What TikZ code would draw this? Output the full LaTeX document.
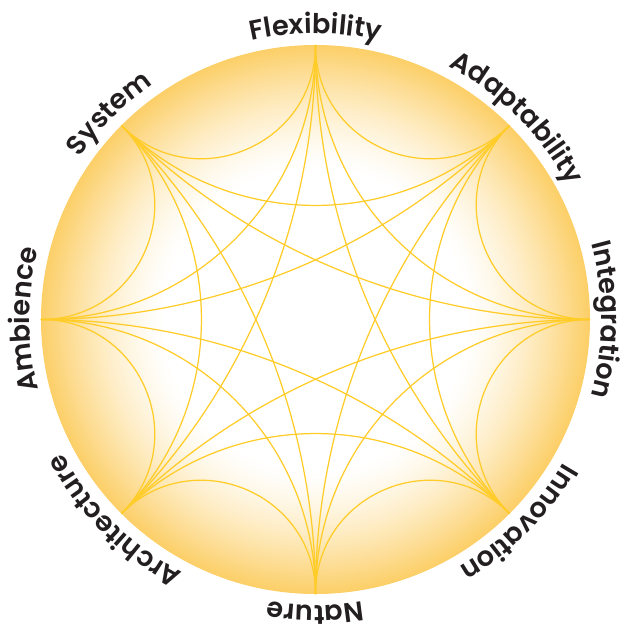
\documentclass[tikz,border=0pt]{standalone}
\usepackage{fontspec}
\usetikzlibrary{decorations.text}
\newfontfamily\labfont{Poppins SemiBold}

\definecolor{discedge}{RGB}{252,207,104}
\definecolor{arccolor}{RGB}{255,204,40}
\definecolor{labelcolor}{RGB}{35,31,32}

\tikzset{
  geodesic/.style={arccolor, line width=0.7pt},
  circlelabel/.style={decorate, decoration={text along path, text align=center,
    text color=labelcolor, text={|\labfont\fontsize{15.5}{17}\selectfont|#1}}}
}

\begin{document}
\begin{tikzpicture}
  \useasboundingbox (-6.31,-6.13) rectangle (6.11,6.39);
  \def\R{5.49}
  \def\T{5.72cm}

  % Draw the disc, yellow at the rim and white inside
  \foreach \k in {0,...,80} {
    \pgfmathsetmacro{\rr}{\R*(1-0.45*\k/80)}
    \pgfmathsetmacro{\pc}{100*(1-\k/80)^1.4}
    \fill[discedge!\pc!white] (0,0) circle (\rr);
  }
  \fill[white] (0,0) circle (0.55*\R);

  % Points on the rim
  \foreach \i in {0,...,7}
    \coordinate (p\i) at (90-45*\i:\R);

  % Arcs between the points (1, 2 and 3 steps apart)
  \foreach \i in {0,...,7} {
    \foreach \s/\b/\l in {1/67.5/1.231, 2/45/0.997, 3/22.5/0.885} {
      \pgfmathtruncatemacro{\j}{mod(\i+8-\s,8)}
      \draw[geodesic] (p\i) to[bend left=\b, looseness=\l] (p\j);
    }
  }

  % Add labels round the circle
  \foreach \a/\name in {90/Flexibility, 45/Adaptability, 0/Integration,
      -45/Innovation, -90/Nature, -135/Architecture, 180/Ambience, 135/System}
    \path[circlelabel=\name] (\a+40:\T) arc[start angle=\a+40, end angle=\a-40, radius=\T];

\end{tikzpicture}
\end{document}
